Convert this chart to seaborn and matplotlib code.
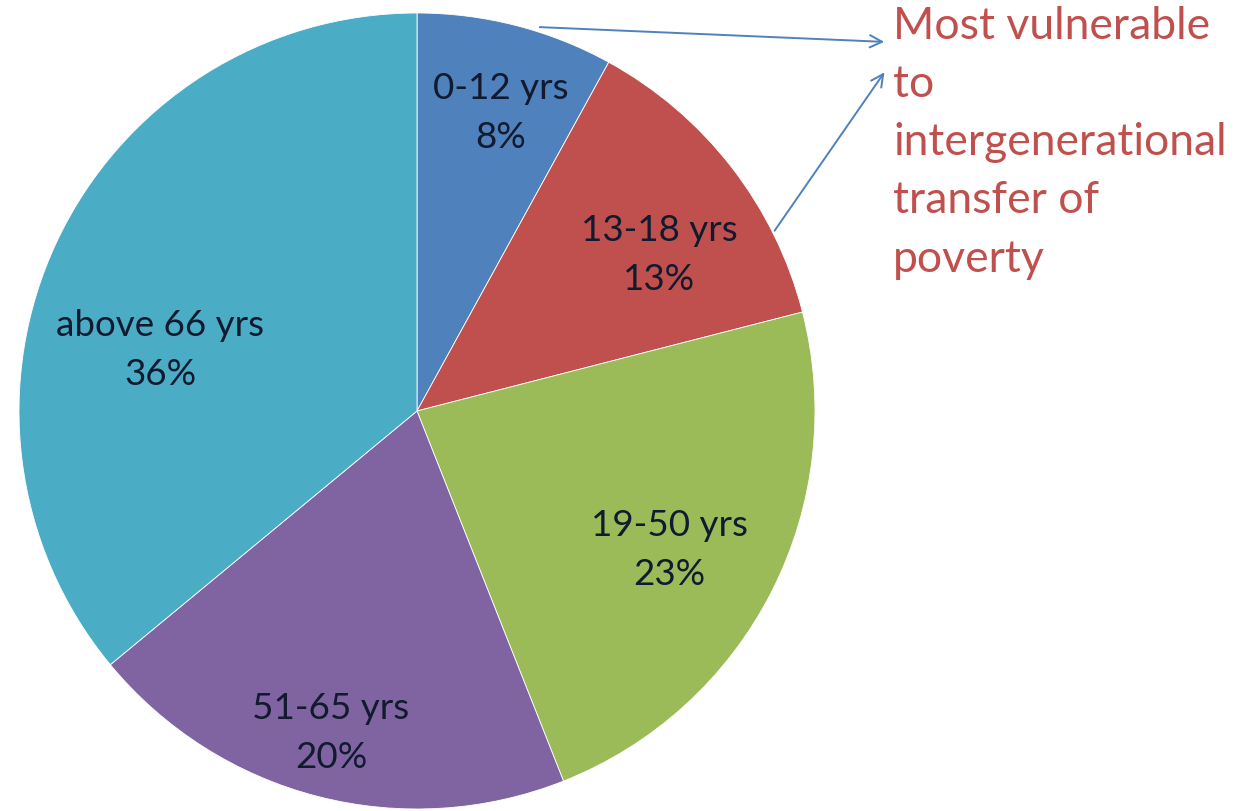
import matplotlib
matplotlib.use("Agg")
import matplotlib.pyplot as plt
import seaborn as sns

sns.set_theme(style="white")
plt.rcParams['font.family'] = ['Lato', 'DejaVu Sans']

categories = ["0-12 yrs", "13-18 yrs", "19-50 yrs", "51-65 yrs", "above 66 yrs"]
values = [8, 13, 23, 20, 36]
colors = ["#4F81BD", "#C0504D", "#9BBB59", "#8064A2", "#4BACC6"]
note = "Most vulnerable\nto\nintergenerational\ntransfer of\npoverty"

W, H = 1253, 811
fig = plt.figure(figsize=(W / 100, H / 100), dpi=100)
ax = fig.add_axes([0, 0, 1, 1])

cx, cy, r = 417, H - 411, 398
wedges, _ = ax.pie(values, colors=colors, startangle=90, counterclock=False,
                   center=(cx, cy), radius=r, frame=True,
                   wedgeprops=dict(linewidth=0.6, edgecolor="white"))
ax.set_xlim(0, W)
ax.set_ylim(0, H)
ax.axis("off")

label_pos = [(501, 113), (659, 255), (669, 550), (331, 733), (160, 350)]
for cat, v, (x, y) in zip(categories, values, label_pos):
    ax.text(x, H - y, f"{cat}\n{v}%", ha="center", va="center",
            fontsize=26.5, color="#111a2e", linespacing=1.6)

ax.text(893, H - 6, note, ha="left", va="top", fontsize=32,
        color="#C0504D", linespacing=1.52)

arrow_kw = dict(arrowstyle="->", color="#4F81BD", lw=1.4, mutation_scale=22)
ax.annotate("", xy=(887, H - 42), xytext=(537, H - 27), arrowprops=arrow_kw)
ax.annotate("", xy=(886, H - 70), xytext=(773, H - 233), arrowprops=arrow_kw)

fig.savefig("out.png", dpi=100)
